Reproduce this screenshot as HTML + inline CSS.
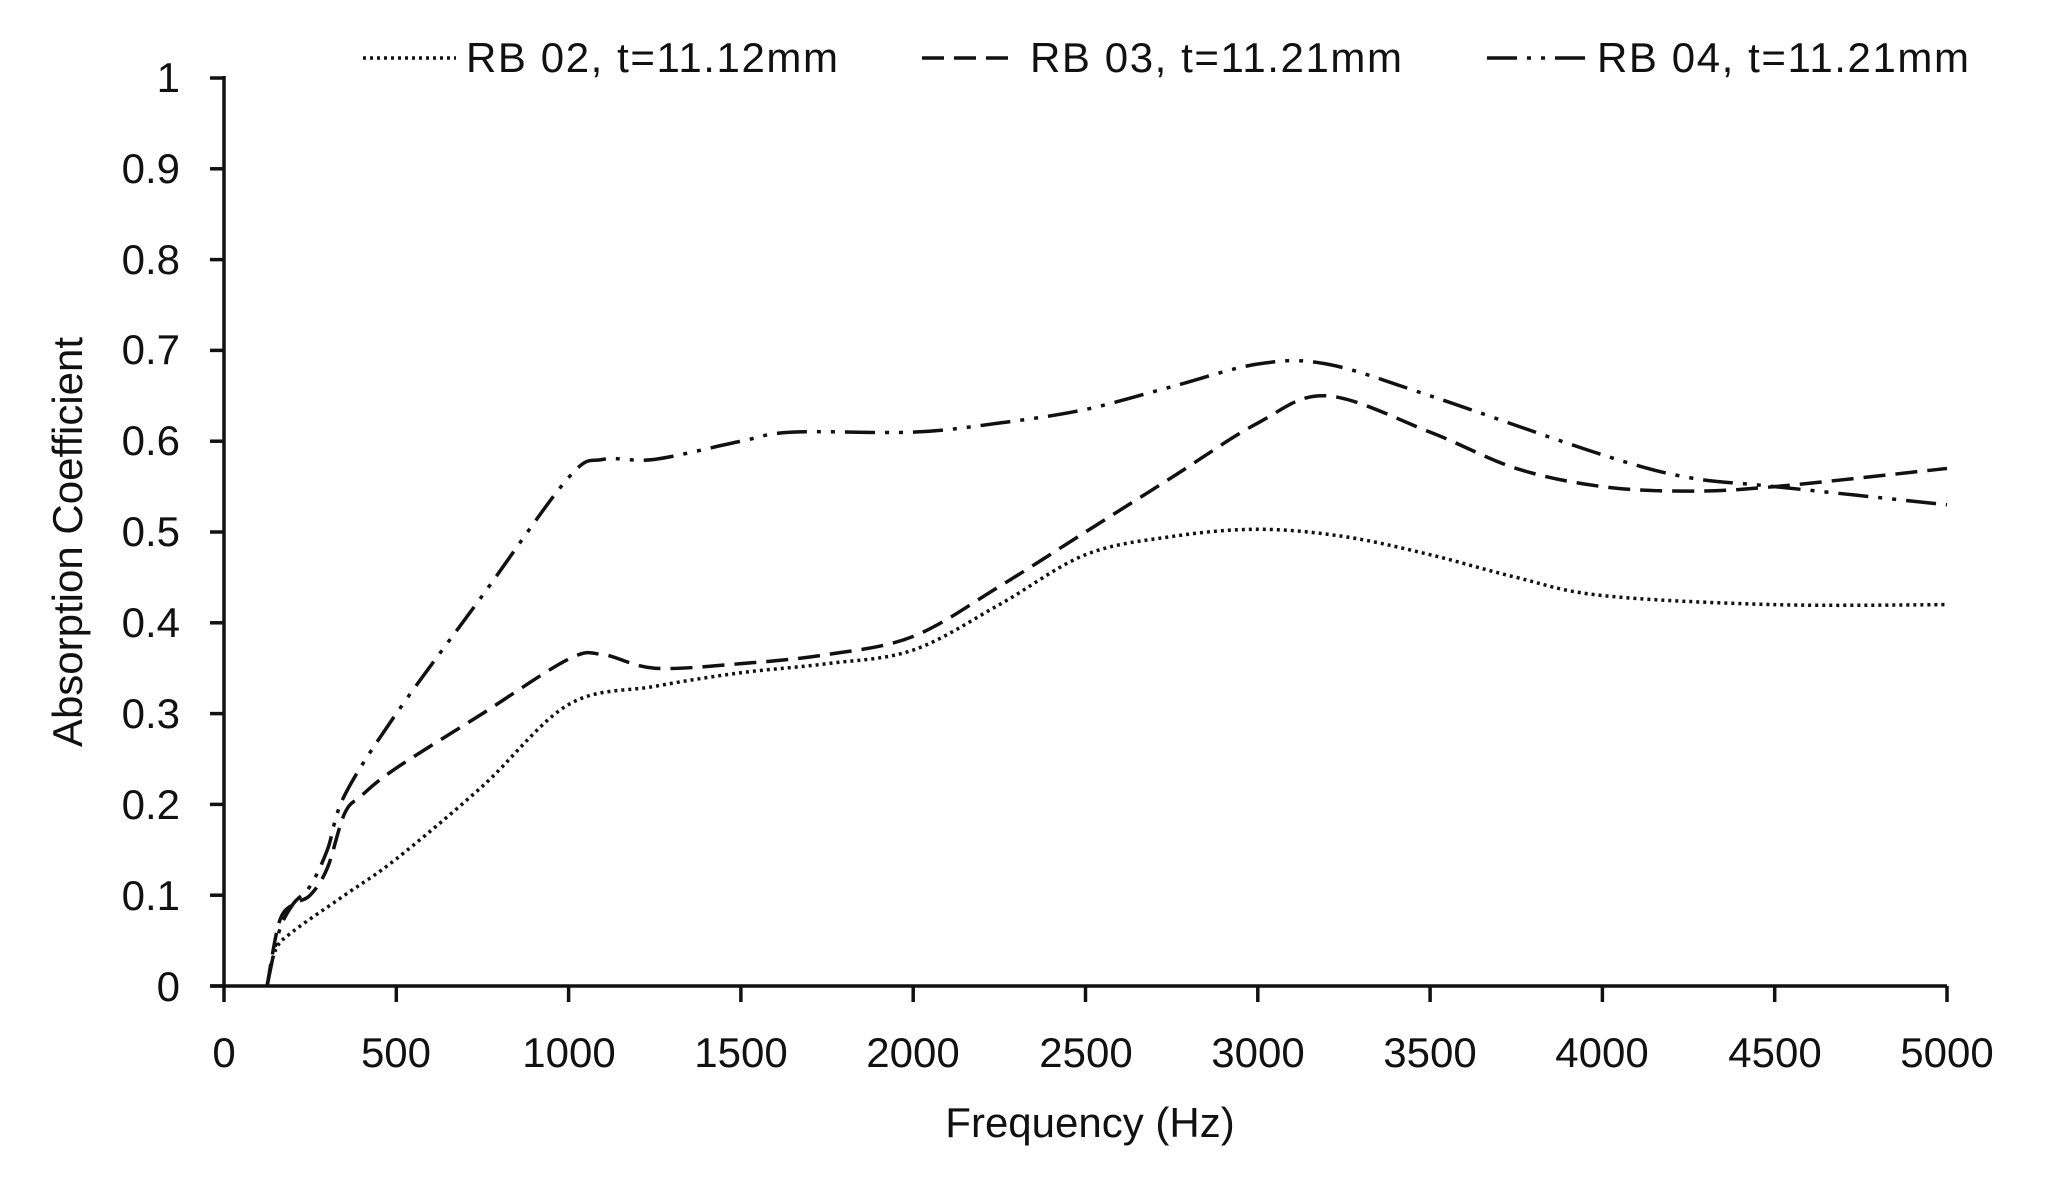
<!DOCTYPE html>
<html><head><meta charset="utf-8"><style>
html,body{margin:0;padding:0;background:#fff;}
svg{display:block;font-family:"Liberation Sans",sans-serif;}
</style></head><body>
<svg id="c" width="2069" height="1179" viewBox="0 0 2069 1179" xmlns="http://www.w3.org/2000/svg">
<g stroke="#111" stroke-width="3.5" fill="none">
<line x1="224" y1="76" x2="224" y2="986"/>
<line x1="210" y1="986" x2="1947" y2="986"/>
</g>
<g id="ticks" stroke="#111" stroke-width="3.5"></g>
<g font-size="42" fill="#111" text-anchor="end">
<text x="180" y="1001">0</text><text x="180" y="910">0.1</text><text x="180" y="819">0.2</text><text x="180" y="728">0.3</text><text x="180" y="637">0.4</text><text x="180" y="546">0.5</text><text x="180" y="455">0.6</text><text x="180" y="364">0.7</text><text x="180" y="274">0.8</text><text x="180" y="183">0.9</text><text x="180" y="92">1</text>
</g>
<g font-size="42" fill="#111" text-anchor="middle">
<text x="224" y="1067">0</text><text x="396" y="1067">500</text><text x="569" y="1067">1000</text><text x="741" y="1067">1500</text><text x="913" y="1067">2000</text><text x="1086" y="1067">2500</text><text x="1258" y="1067">3000</text><text x="1430" y="1067">3500</text><text x="1602" y="1067">4000</text><text x="1775" y="1067">4500</text><text x="1947" y="1067">5000</text>
<text x="1090" y="1137">Frequency (Hz)</text>
<text transform="translate(82,542) rotate(-90)">Absorption Coefficient</text>
</g>
<g font-size="42" fill="#111">
<text x="466" y="72" textLength="372">RB 02, t=11.12mm</text>
<text x="1030" y="72" textLength="372">RB 03, t=11.21mm</text>
<text x="1597" y="72" textLength="372">RB 04, t=11.21mm</text>
</g>
<g stroke="#111" stroke-width="3.5" fill="none">
<line x1="363" y1="58" x2="456" y2="58" stroke-dasharray="3 4"/>
<line x1="922" y1="58" x2="1018" y2="58" stroke-dasharray="22 10"/>
<line x1="1487" y1="58" x2="1585" y2="58" stroke-dasharray="30 10 4 10 4 10"/>
</g>
<g id="series" stroke="#111" stroke-width="3.5" fill="none"></g>
</svg>
<script>
var X=function(f){return 224+f*0.3446;},Y=function(v){return 986-v*908;};
var t=document.getElementById('ticks'),h='';
for(var i=0;i<=10;i++){var y=Y(i/10);h+='<line x1="210" y1="'+y+'" x2="224" y2="'+y+'"/>';var x=X(i*500);h+='<line x1="'+x+'" y1="986" x2="'+x+'" y2="1002"/>';}
t.innerHTML=h;
function path(d){var p=d.map(function(a){return [X(a[0]),Y(a[1])];});var s='M'+p[0][0]+' '+p[0][1];
for(var i=0;i<p.length-1;i++){var p0=p[i-1]||p[i],p1=p[i],p2=p[i+1],p3=p[i+2]||p2;
s+=' C'+(p1[0]+(p2[0]-p0[0])/6)+' '+(p1[1]+(p2[1]-p0[1])/6)+' '+(p2[0]-(p3[0]-p1[0])/6)+' '+(p2[1]-(p3[1]-p1[1])/6)+' '+p2[0]+' '+p2[1];}return s;}
var A=[[125,0],[150,0.04],[200,0.06],[350,0.1],[500,0.14],[750,0.22],[1000,0.31],[1250,0.33],[1500,0.345],[1750,0.355],[2000,0.37],[2250,0.42],[2500,0.475],[2750,0.495],[3000,0.503],[3250,0.495],[3500,0.475],[3750,0.45],[4000,0.43],[4500,0.42],[5000,0.42]];
var B=[[125,0],[160,0.07],[200,0.09],[250,0.1],[300,0.13],[350,0.19],[400,0.21],[500,0.24],[750,0.3],[1000,0.36],[1100,0.365],[1250,0.35],[1500,0.355],[1750,0.365],[2000,0.385],[2250,0.44],[2500,0.5],[2750,0.56],[3000,0.62],[3200,0.65],[3500,0.61],[3750,0.57],[4000,0.55],[4250,0.545],[4500,0.55],[5000,0.57]];
var C=[[125,0],[160,0.06],[200,0.09],[250,0.11],[300,0.15],[350,0.21],[500,0.3],[750,0.43],[1000,0.56],[1100,0.58],[1250,0.58],[1500,0.6],[1650,0.61],[2000,0.61],[2250,0.62],[2500,0.635],[2750,0.66],[3000,0.685],[3200,0.685],[3500,0.65],[4000,0.585],[4250,0.56],[4500,0.55],[5000,0.53]];
document.getElementById('series').innerHTML=
'<path d="'+path(A)+'" stroke-dasharray="3 4"/>'+
'<path d="'+path(B)+'" stroke-dasharray="22 10"/>'+
'<path d="'+path(C)+'" stroke-dasharray="30 10 4 10 4 10"/>';
</script>
</body></html>
